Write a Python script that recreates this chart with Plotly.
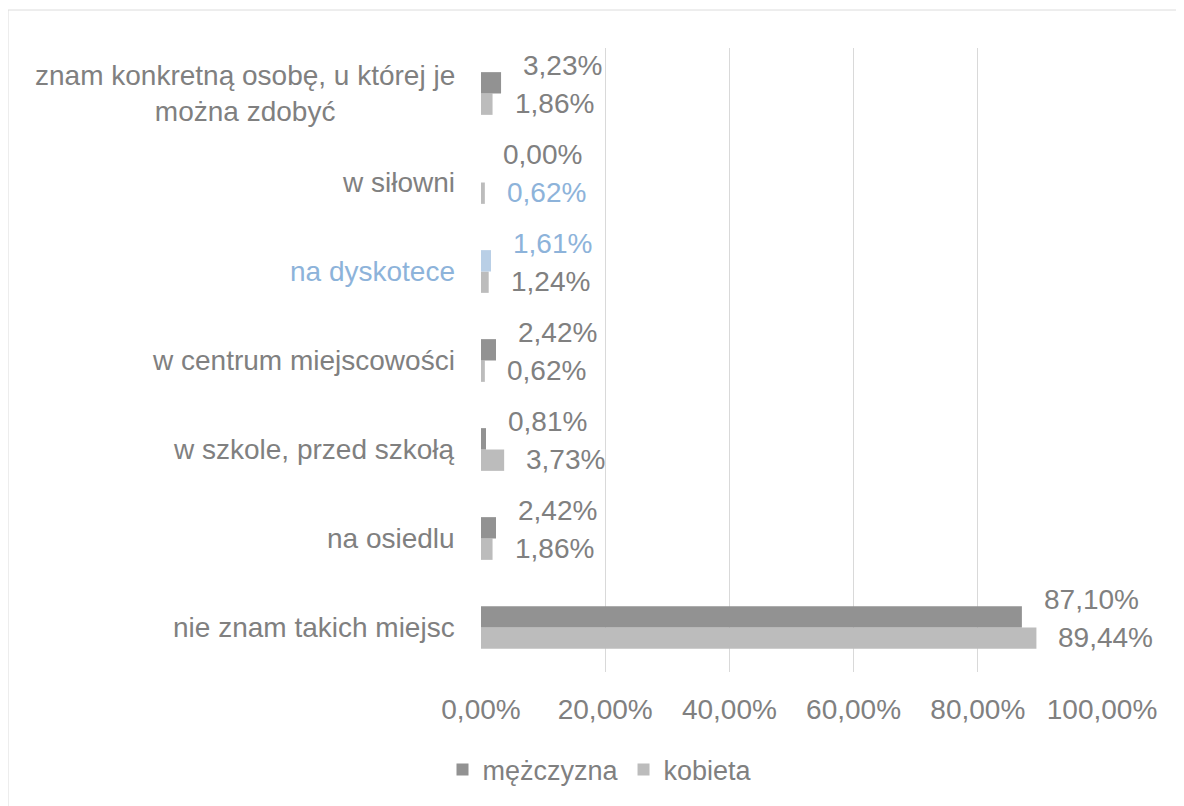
import plotly.graph_objects as go

# ---- data ----
categories = [
    "nie znam takich miejsc",
    "na osiedlu",
    "w szkole, przed szkołą",
    "w centrum miejscowości",
    "na dyskotece",
    "w siłowni",
    "znam konkretną osobę, u której je<br>można zdobyć",
]
mezczyzna = [87.10, 2.42, 0.81, 2.42, 1.61, 0.00, 3.23]
kobieta = [89.44, 1.86, 3.73, 0.62, 1.24, 0.62, 1.86]
series_names = ["mężczyzna", "kobieta"]
x_ticks = [0, 20, 40, 60, 80, 100]

# ---- style ----
FONT = "Liberation Sans, Arial, sans-serif"
TXT = "#808080"
BLUE = "#8db3da"
C_M = "#929292"
C_K = "#bcbcbc"
FS = 28

OFF = 8  # page body offset
W, H = 1184, 806
L, R, T, B = 481 - OFF, 90, 48 - OFF, 142
pw, ph = W - L - R, H - T - B


def pct(v):
    return f"{v:.2f}%".replace(".", ",")


def px_to_paper_x(px):
    return (px - OFF - L) / pw


def px_to_paper_y(py):
    return (T + ph - (py - OFF)) / ph


m_colors = [C_M] * len(categories)
m_colors[4] = "#b9cfe6"
k_colors = [C_K] * len(categories)
m_text_colors = [TXT] * len(categories)
m_text_colors[4] = BLUE
k_text_colors = [TXT] * len(categories)
k_text_colors[5] = BLUE
cat_colors = [TXT] * len(categories)
cat_colors[4] = BLUE

fig = go.Figure()
fig.add_trace(go.Bar(y=categories, x=kobieta, orientation="h", name=series_names[1],
                     marker=dict(color=k_colors, line=dict(width=0)), hoverinfo="x+y"))
fig.add_trace(go.Bar(y=categories, x=mezczyzna, orientation="h", name=series_names[0],
                     marker=dict(color=m_colors, line=dict(width=0)), hoverinfo="x+y"))

ann = []
for i, c in enumerate(categories):
    ann.append(dict(x=mezczyzna[i], y=c, xref="x", yref="y", text=pct(mezczyzna[i]),
                    showarrow=False, xanchor="left", yanchor="middle", xshift=20, yshift=28,
                    font=dict(family=FONT, size=FS, color=m_text_colors[i])))
    ann.append(dict(x=kobieta[i], y=c, xref="x", yref="y", text=pct(kobieta[i]),
                    showarrow=False, xanchor="left", yanchor="middle", xshift=20, yshift=-10,
                    font=dict(family=FONT, size=FS, color=k_text_colors[i])))
    ann.append(dict(x=0, y=c, xref="paper", yref="y", text=c, showarrow=False,
                    xanchor="right", yanchor="middle", xshift=-24, align="center",
                    font=dict(family=FONT, size=FS, color=cat_colors[i])))

# chart border
shapes = [dict(type="rect", xref="paper", yref="paper",
               x0=px_to_paper_x(8), x1=px_to_paper_x(W + 20),
               y0=px_to_paper_y(H + 20), y1=px_to_paper_y(10),
               line=dict(color="#dcdcdc", width=1), fillcolor="rgba(0,0,0,0)", layer="below")]

fig.update_layout(
    width=W, height=H,
    margin=dict(l=L, r=R, t=T, b=B, pad=0),
    paper_bgcolor="white", plot_bgcolor="white",
    barmode="group", bargap=0.52, bargroupgap=0,
    font=dict(family=FONT, size=FS, color=TXT),
    showlegend=True,
    legend=dict(orientation="h", traceorder="reversed", x=px_to_paper_x(600), xanchor="center",
                y=px_to_paper_y(770), yanchor="middle",
                font=dict(family=FONT, size=FS - 1, color=TXT), itemwidth=30),
    annotations=ann,
    shapes=shapes,
    xaxis=dict(range=[0, 100], tickvals=x_ticks, ticktext=[pct(v) for v in x_ticks],
               showgrid=True, gridcolor="#d9d9d9", gridwidth=1, zeroline=False,
               showline=False, ticks="", ticklabelstandoff=18,
               tickfont=dict(family=FONT, size=FS, color=TXT), fixedrange=True),
    yaxis=dict(categoryorder="array", categoryarray=categories, showticklabels=False,
               showgrid=False, zeroline=False, showline=False, ticks="", fixedrange=True),
)

fig.write_html("out.html")
